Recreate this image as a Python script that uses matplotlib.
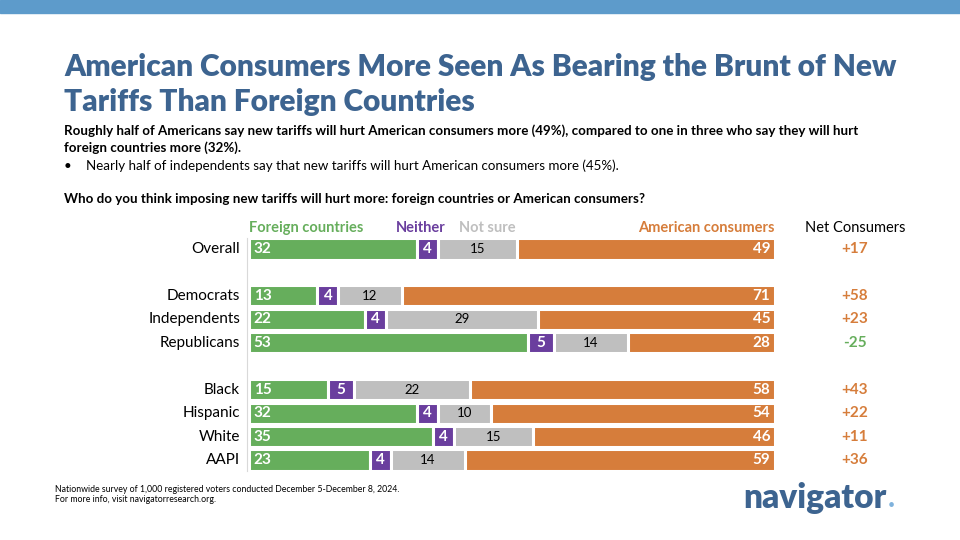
import numpy as np
import matplotlib
matplotlib.use('Agg')
import matplotlib.pyplot as plt
from matplotlib.patches import Rectangle

plt.rcParams['font.family'] = ['Lato', 'DejaVu Sans']

# data
groups = ['Overall', 'Democrats', 'Independents', 'Republicans',
          'Black', 'Hispanic', 'White', 'AAPI']
rows = [0, 2, 3, 4, 6, 7, 8, 9]
foreign = [32, 13, 22, 53, 15, 32, 35, 23]
neither = [4, 4, 4, 5, 5, 4, 4, 4]
not_sure = [15, 12, 29, 14, 22, 10, 15, 14]
consumers = [49, 71, 45, 28, 58, 54, 46, 59]
net = ['+17', '+58', '+23', '-25', '+43', '+22', '+11', '+36']

GREEN = '#66AE5C'
PURPLE = '#6A3E9E'
GRAY = '#BFBFBF'
ORANGE = '#D67D3B'
BLUE = '#3D6490'
W, H = 960, 540

fig = plt.figure(figsize=(9.6, 5.4), dpi=100)

def fx(px):
    return px / W

def fy(py):
    return 1 - py / H

# top band
fig.patches.append(Rectangle((0, fy(13)), 1, 13 / H, transform=fig.transFigure,
                             color='#5D9BCB', zorder=0))

fig.text(fx(64), fy(67), 'American Consumers More Seen As Bearing the Brunt of New',
         fontsize=21.5, fontweight='heavy', color=BLUE, va='center', ha='left')
fig.text(fx(64), fy(102), 'Tariffs Than Foreign Countries',
         fontsize=21.5, fontweight='heavy', color=BLUE, va='center', ha='left')
fig.text(fx(64), fy(131), 'Roughly half of Americans say new tariffs will hurt American consumers more (49%), '
         'compared to one in three who say they will hurt',
         fontsize=9.6, fontweight='bold', color='black', va='center', ha='left')
fig.text(fx(64), fy(148), 'foreign countries more (32%).',
         fontsize=9.6, fontweight='bold', color='black', va='center', ha='left')
fig.text(fx(64), fy(166), '•', fontsize=9.6, color='black', va='center', ha='left')
fig.text(fx(86), fy(166), 'Nearly half of independents say that new tariffs will hurt American consumers more (45%).',
         fontsize=9.6, color='black', va='center', ha='left')
fig.text(fx(64), fy(199), 'Who do you think imposing new tariffs will hurt more: foreign countries or American consumers?',
         fontsize=9.6, fontweight='bold', color='black', va='center', ha='left')

# bar axes
x0, x1 = 249, 775
ytop, ybot = 238, 472
ax = fig.add_axes([fx(x0), fy(ybot), (x1 - x0) / W, (ybot - ytop) / H])
sp = (460 - 249) / 9
ax.set_xlim(0, 100)
ax.set_ylim(9 + (ybot - 460) / sp, -(249 - ytop) / sp)
ax.axis('off')

f = np.array(foreign)
n = np.array(neither)
s = np.array(not_sure)
c = np.array(consumers)
bh = 0.9
kw = dict(height=bh, edgecolor='white', linewidth=2.2)
ax.barh(rows, f, color=GREEN, **kw)
ax.barh(rows, n, left=f, color=PURPLE, **kw)
ax.barh(rows, s, left=f + n, color=GRAY, **kw)
ax.barh(rows, c, left=f + n + s, color=ORANGE, **kw)

for i, r in enumerate(rows):
    ax.text(0.9, r, str(f[i]), color='white', fontsize=11, fontweight='bold',
            va='center', ha='left')
    ax.text(f[i] + n[i] / 2, r, str(n[i]), color='white', fontsize=11, fontweight='bold',
            va='center', ha='center')
    ax.text(f[i] + n[i] + s[i] / 2, r, str(s[i]), color='black', fontsize=9.5,
            va='center', ha='center')
    ax.text(99.1, r, str(c[i]), color='white', fontsize=11, fontweight='bold',
            va='center', ha='right')
    yy = ax.transData.transform((0, r))[1] / H
    fig.text(fx(855), yy, net[i],
             color=GREEN if net[i].startswith('-') else ORANGE,
             fontsize=11, fontweight='bold', va='center', ha='center')
    fig.text(fx(240), yy, groups[i],
             color='black', fontsize=11, va='center', ha='right')

# left guide line
fig.add_artist(plt.Line2D([fx(247), fx(247)], [fy(238), fy(471)], color='#D9D9D9',
                          linewidth=0.8))

# column headers
fig.text(fx(249), fy(228), 'Foreign countries', color=GREEN, fontsize=10.5,
         fontweight='bold', va='center', ha='left')
fig.text(fx(446), fy(228), 'Neither', color=PURPLE, fontsize=10.5,
         fontweight='bold', va='center', ha='right')
fig.text(fx(459), fy(228), 'Not sure', color=GRAY, fontsize=10.5,
         fontweight='bold', va='center', ha='left')
fig.text(fx(775), fy(228), 'American consumers', color=ORANGE, fontsize=10.5,
         fontweight='bold', va='center', ha='right')
fig.text(fx(855), fy(228), 'Net Consumers', color='black', fontsize=10.5,
         va='center', ha='center')

# footer
fig.text(fx(55), fy(489), 'Nationwide survey of 1,000 registered voters conducted December 5-December 8, 2024.',
         fontsize=6.3, color='black', va='center', ha='left')
fig.text(fx(55), fy(499), 'For more info, visit navigatorresearch.org.',
         fontsize=6.3, color='black', va='center', ha='left')
fig.text(fx(743), fy(498), 'navigator', fontsize=24, fontweight='heavy', color=BLUE,
         va='center', ha='left')
fig.text(fx(888), fy(505), '•', fontsize=9, color='#7FB2DC', va='center', ha='left')

fig.savefig('out.png', dpi=100)
